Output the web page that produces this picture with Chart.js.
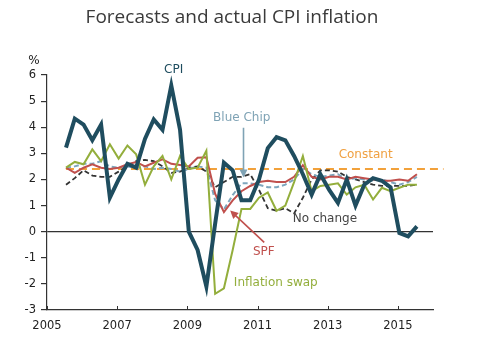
<!DOCTYPE html>
<html>
<head>
<meta charset="utf-8">
<script src="https://cdn.jsdelivr.net/npm/chart.js@4/dist/chart.umd.min.js"></script>
<style>
html,body{margin:0;padding:0;background:#fff;}
#wrap{width:488px;height:357px;position:relative;}
</style>
</head>
<body>
<div id="wrap"><canvas id="c" width="488" height="357"></canvas></div>
<script>
// ---- data (quarterly, 2005Q3 .. 2015Q3) ----
const quarters = [
 "2005Q3","2005Q4",
 "2006Q1","2006Q2","2006Q3","2006Q4",
 "2007Q1","2007Q2","2007Q3","2007Q4",
 "2008Q1","2008Q2","2008Q3","2008Q4",
 "2009Q1","2009Q2","2009Q3","2009Q4",
 "2010Q1","2010Q2","2010Q3","2010Q4",
 "2011Q1","2011Q2","2011Q3","2011Q4",
 "2012Q1","2012Q2","2012Q3","2012Q4",
 "2013Q1","2013Q2","2013Q3","2013Q4",
 "2014Q1","2014Q2","2014Q3","2014Q4",
 "2015Q1","2015Q2","2015Q3"
];
const cpi = [3.22,4.33, 4.1,3.5,4.1,1.3, 2.0,2.6,2.45,3.55, 4.3,3.9,5.6,3.9, 0.0,-0.7,-2.1,0.3,
  2.64,2.35,1.2,1.2, 2.0,3.2,3.62,3.5, 2.9,2.2,1.42,2.2, 1.6,1.1,2.0,1.0, 1.8,2.05,1.95,1.7, -0.05,-0.18,0.2];
const inflationSwap = [2.45,2.67, 2.58,3.15,2.7,3.35, 2.8,3.3,2.96,1.8, 2.5,2.9,2.0,2.9, 2.4,2.45,3.1,-2.38,
  -2.17,-0.7,0.87,0.87, 1.3,1.5,0.8,1.0, 1.9,2.9,1.55,1.75, 1.8,1.85,1.42,1.7, 1.8,1.23,1.68,1.55, 1.68,1.8,1.8];
const spf = [2.45,2.25, 2.45,2.58,2.45,2.4, 2.45,2.58,2.67,2.5, 2.64,2.77,2.6,2.55, 2.5,2.83,2.85,1.45,
  0.75,1.2,1.55,1.75, 1.9,1.95,1.9,1.9, 2.1,2.55,2.1,2.0, 2.1,2.1,2.0,2.1, 2.05,2.0,1.95,1.95, 2.0,1.95,2.2];
const blueChip = [2.45,2.5, 2.6,2.6,2.7,2.5, 2.45,2.5,2.45,2.5, 2.4,2.45,2.4,2.3, 2.4,2.5,2.45,1.2,
  0.85,1.4,1.85,1.85, 1.8,1.7,1.7,1.8, 2.0,2.4,2.2,2.1, 2.15,2.2,2.0,2.05, 2.0,1.95,2.0,1.9, 1.8,1.9,2.1];
const noChange = [1.8,2.05, 2.35,2.15,2.1,2.1, 2.3,2.5,2.7,2.75, 2.7,2.5,2.25,2.3, 2.45,2.5,2.3,1.7,
  1.9,2.1,2.1,2.2, 1.6,0.9,0.8,0.9, 0.7,1.3,2.0,2.35, 2.35,2.3,2.1,2.0, 1.9,1.8,1.75,1.75, 1.75,1.75,1.8];
const constantValue = 2.4;
const constantSpan = [2005.54, 2016.3];
const xTicks = [2005, 2007, 2009, 2011, 2013, 2015];
const yTicks = [-3, -2, -1, 0, 1, 2, 3, 4, 5, 6];

// quarter label -> decimal year
function qToYear(s){ const y = +s.slice(0,4), q = +s.slice(5); return y + (q-1)/4 + 1/24; }
const xs = quarters.map(qToYear);
const pts = arr => arr.map((v,i)=>({x:xs[i], y:v}));

const COL = {cpi:'#1f4d5f', swap:'#93ae3c', spf:'#c0504d', bc:'#7ea6bd', nc:'#333333', con:'#f2a13a'};
const FONT = "'DejaVu Sans', Verdana, sans-serif";

const annot = {
  id:'annot',
  afterDraw(chart){
    const {ctx, scales:{x, y}} = chart;
    ctx.save();
    // x tick marks pointing up
    ctx.strokeStyle = '#333'; ctx.lineWidth = 1;
    xTicks.forEach(v=>{ const px = Math.round(x.getPixelForValue(v))+0.5;
      ctx.beginPath(); ctx.moveTo(px, y.bottom); ctx.lineTo(px, y.bottom-4); ctx.stroke(); });
    // title
    ctx.fillStyle = '#3a3a3a';
    ctx.font = "19px 'Open Sans', sans-serif";
    ctx.textAlign = 'center'; ctx.textBaseline = 'middle';
    ctx.fillText('Forecasts and actual CPI inflation', 232, 18);
    // % label
    ctx.font = "12px " + FONT; ctx.fillStyle = '#222';
    ctx.fillText('%', 34, 61);
    const lab = (t, col, tx, ty) => { ctx.fillStyle = col; ctx.fillText(t, x.getPixelForValue(tx), y.getPixelForValue(ty)); };
    ctx.font = "12px " + FONT;
    lab('CPI', COL.cpi, 2008.61, 6.2);
    lab('Blue Chip', '#7fa3b5', 2010.55, 4.35);
    lab('Constant', '#f0a040', 2014.08, 2.96);
    lab('No change', '#444', 2012.92, 0.5);
    lab('SPF', COL.spf, 2011.18, -0.79);
    lab('Inflation swap', COL.swap, 2011.52, -1.97);
    // arrows
    const arrow = (x1,y1,x2,y2,col) => {
      const p1 = [x.getPixelForValue(x1), y.getPixelForValue(y1)];
      const p2 = [x.getPixelForValue(x2), y.getPixelForValue(y2)];
      const a = Math.atan2(p2[1]-p1[1], p2[0]-p1[0]);
      const L = 8, W = 4;
      ctx.strokeStyle = col; ctx.fillStyle = col; ctx.lineWidth = 1.6;
      ctx.beginPath(); ctx.moveTo(p1[0],p1[1]);
      ctx.lineTo(p2[0]-Math.cos(a)*L*0.8, p2[1]-Math.sin(a)*L*0.8); ctx.stroke();
      ctx.beginPath(); ctx.moveTo(p2[0],p2[1]);
      ctx.lineTo(p2[0]-Math.cos(a)*L - Math.sin(a)*W, p2[1]-Math.sin(a)*L + Math.cos(a)*W);
      ctx.lineTo(p2[0]-Math.cos(a)*L + Math.sin(a)*W, p2[1]-Math.sin(a)*L - Math.cos(a)*W);
      ctx.closePath(); ctx.fill();
    };
    arrow(2010.6, 3.98, 2010.6, 2.07, '#7fa3b5');
    arrow(2011.19, -0.41, 2010.22, 0.81, COL.spf);
    ctx.restore();
  }
};

new Chart(document.getElementById('c'), {
  type:'line',
  data:{
    datasets:[
      {label:'CPI', data:pts(cpi), borderColor:COL.cpi, borderWidth:4, order:0},
      {label:'Inflation swap', data:pts(inflationSwap), borderColor:COL.swap, borderWidth:2, order:1},
      {label:'SPF', data:pts(spf), borderColor:COL.spf, borderWidth:2, order:2},
      {label:'Blue Chip', data:pts(blueChip), borderColor:COL.bc, borderWidth:2, borderDash:[5,3], order:3},
      {label:'No change', data:pts(noChange), borderColor:COL.nc, borderWidth:1.8, borderDash:[5,3], order:4},
      {label:'Constant', data:constantSpan.map(t=>({x:t, y:constantValue})), borderColor:COL.con, borderWidth:2.2, borderDash:[8,5], order:5, clip:false}
    ]
  },
  options:{
    responsive:false, animation:false,
    layout:{padding:{top:75, right:55, left:0, bottom:0}},
    elements:{point:{radius:0}, line:{tension:0, fill:false}},
    plugins:{legend:{display:false}, tooltip:{enabled:false}, title:{display:false}},
    scales:{
      x:{type:'linear', min:2005, max:2016,
        afterBuildTicks: s => { s.ticks = xTicks.map(v=>({value:v})); },
        afterFit: s => { s.height = 47; },
        ticks:{font:{family:FONT, size:11.5}, color:'#222', padding:9, maxRotation:0, callback:v=>String(v)},
        grid:{display:false, drawTicks:false},
        border:{display:true, color:'#333', width:1.2}
      },
      y:{min:-3, max:6,
        afterBuildTicks: s => { s.ticks = yTicks.map(v=>({value:v})); },
        afterFit: s => { s.width = 47; },
        ticks:{font:{family:FONT, size:11.5}, color:'#222', padding:5},
        grid:{color: c => (c.tick && c.tick.value===0) ? '#333' : 'rgba(0,0,0,0)', lineWidth:1.2,
              drawTicks:true, tickLength:6, tickColor:'#333'},
        border:{display:true, color:'#333', width:1.2}
      }
    }
  },
  plugins:[annot]
});
</script>
</body>
</html>
